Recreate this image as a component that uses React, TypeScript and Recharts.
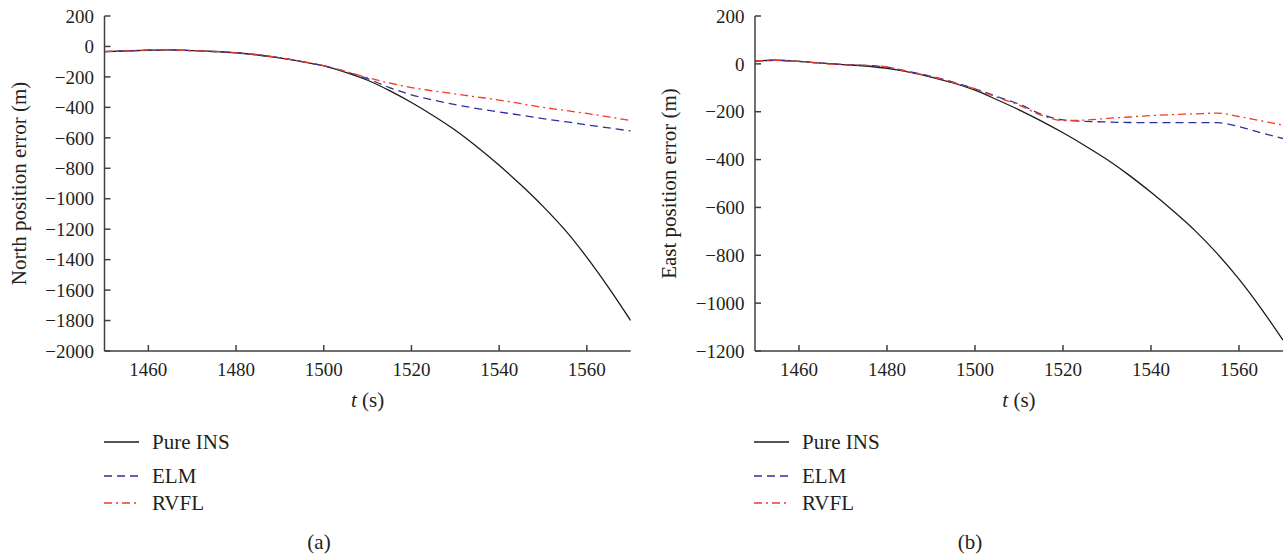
import React from 'react';
import { LineChart, Line, XAxis, YAxis } from 'recharts';

// time stamps (s)
const tValues = [
  1450, 1455, 1460, 1465, 1470, 1475, 1480, 1485, 1490, 1495, 1500, 1505, 1510,
  1515, 1520, 1525, 1530, 1535, 1540, 1545, 1550, 1555, 1560, 1565, 1570,
];

// (a) north position error (m)
const northPureIns = [
  -34, -30, -25, -22, -27, -33, -42, -56, -75, -100, -128, -170, -222,
  -290, -368, -455, -550, -660, -780, -910, -1050, -1205, -1385, -1585, -1800,
];
const northElm = [
  -34, -29, -25, -23, -27, -34, -41, -56, -74, -99, -127, -166, -212,
  -270, -318, -352, -382, -408, -430, -452, -474, -494, -515, -535, -555,
];
const northRvfl = [
  -33, -30, -24, -22, -28, -32, -42, -54, -75, -98, -126, -164, -205,
  -240, -270, -292, -312, -332, -352, -376, -400, -420, -440, -462, -487,
];

// (b) east position error (m)
const eastPureIns = [
  12, 15, 10, 3, -3, -9, -19, -35, -55, -80, -110, -150, -192,
  -238, -288, -342, -400, -465, -537, -614, -697, -792, -900, -1022, -1155,
];
const eastElm = [
  12, 15, 10, 3, -3, -6, -14, -32, -52, -76, -104, -137, -168,
  -210, -234, -240, -243, -245, -246, -246, -246, -246, -262, -288, -312,
];
const eastRvfl = [
  12, 15, 10, 2, -4, -6, -13, -33, -53, -78, -105, -140, -172,
  -214, -237, -235, -228, -222, -216, -212, -209, -206, -220, -238, -256,
];

const xTicks = [1460, 1480, 1500, 1520, 1540, 1560];
const northTicks = [200, 0, -200, -400, -600, -800, -1000, -1200, -1400, -1600, -1800, -2000];
const eastTicks = [200, 0, -200, -400, -600, -800, -1000, -1200];

const SERIF = '"Liberation Serif", "DejaVu Serif", serif';
const INK = '#231f20';
const AXIS = '#404040';

const series = [
  { key: 'ins', name: 'Pure INS', color: '#1c1c1c', dash: undefined as string | undefined },
  { key: 'elm', name: 'ELM', color: '#2f2f9c', dash: '8 5' },
  { key: 'rvfl', name: 'RVFL', color: '#f03c24', dash: '8 4 2 4' },
];

const legendRows = [442, 476, 503];

const fmt = (v: number) => (v < 0 ? `\u2212${Math.abs(v)}` : `${v}`);

const buildRows = (ins: number[], elm: number[], rvfl: number[]) =>
  tValues.map((t, i) => ({ t, ins: ins[i], elm: elm[i], rvfl: rvfl[i] }));

const TimeTitle = (props: any) => {
  const { viewBox } = props;
  const cx = viewBox.x + viewBox.width / 2;
  return (
    <text x={cx} y={viewBox.y + 56} textAnchor="middle" fontFamily={SERIF} fontSize={21} fill={INK}>
      <tspan fontStyle="italic">t</tspan> (s)
    </text>
  );
};

interface PanelProps {
  left: number;
  width: number;
  axisWidth: number;
  rightGap: number;
  rows: any[];
  yLabel: string;
  yDomain: [number, number];
  yTicks: number[];
  tag: string;
  tagX: number;
}

const Panel = ({ left, width, axisWidth, rightGap, rows, yLabel, yDomain, yTicks, tag, tagX }: PanelProps) => {
  const tickStyle = { fontFamily: SERIF, fontSize: 19, fill: INK };
  const plotLeft = left + axisWidth;
  return (
    <>
      <div style={{ position: 'absolute', left, top: 0 }}>
        <LineChart
          width={width}
          height={555}
          data={rows}
          margin={{ top: 16, right: rightGap, left: 0, bottom: 174 }}
        >
          <XAxis
            dataKey="t"
            type="number"
            domain={[1450, 1570]}
            ticks={xTicks}
            allowDataOverflow
            height={30}
            stroke={AXIS}
            strokeWidth={1.5}
            tickSize={-6}
            tickMargin={18}
            tick={tickStyle}
            label={<TimeTitle />}
          />
          <XAxis
            xAxisId="top"
            orientation="top"
            dataKey="t"
            type="number"
            domain={[1450, 1570]}
            ticks={xTicks}
            allowDataOverflow
            height={0}
            stroke={AXIS}
            strokeWidth={1.5}
            tickSize={-6}
            tick={false}
          />
          <YAxis
            type="number"
            domain={yDomain}
            ticks={yTicks}
            allowDataOverflow
            width={axisWidth}
            stroke={AXIS}
            strokeWidth={1.5}
            tickSize={-6}
            tickMargin={16.5}
            tick={tickStyle}
            tickFormatter={fmt}
            label={{
              value: yLabel,
              angle: -90,
              position: 'insideLeft',
              offset: 19,
              style: { textAnchor: 'middle', fontFamily: SERIF, fontSize: 21, fill: INK },
            }}
          />
          <YAxis
            yAxisId="right"
            orientation="right"
            type="number"
            domain={yDomain}
            ticks={yTicks}
            allowDataOverflow
            width={0}
            stroke={AXIS}
            strokeWidth={1.5}
            tickSize={-6}
            tick={false}
          />
          {series.map((s) => (
            <Line
              key={s.key}
              type="monotone"
              dataKey={s.key}
              name={s.name}
              stroke={s.color}
              strokeWidth={1.3}
              strokeDasharray={s.dash}
              dot={false}
              activeDot={false}
              isAnimationActive={false}
            />
          ))}
        </LineChart>
      </div>
      <svg
        width={260}
        height={120}
        style={{ position: 'absolute', left: plotLeft - 1, top: 420 }}
      >
        {series.map((s, i) => (
          <g key={s.key}>
            <line
              x1={0}
              x2={35}
              y1={legendRows[i] - 420}
              y2={legendRows[i] - 420}
              stroke={s.color}
              strokeWidth={1.5}
              strokeDasharray={s.dash}
            />
            <text
              x={48}
              y={legendRows[i] - 420 + 7}
              fontFamily={SERIF}
              fontSize={21}
              fill={INK}
            >
              {s.name}
            </text>
          </g>
        ))}
      </svg>
      <div
        style={{
          position: 'absolute',
          left: tagX - 40,
          width: 80,
          top: 529,
          textAlign: 'center',
          fontFamily: SERIF,
          fontSize: 21,
          color: INK,
          lineHeight: '26px',
        }}
      >
        {tag}
      </div>
    </>
  );
};

export default function App() {
  const north = buildRows(northPureIns, northElm, northRvfl);
  const east = buildRows(eastPureIns, eastElm, eastRvfl);
  return (
    <div style={{ position: 'absolute', left: 0, top: 0, width: 1287, height: 555, background: '#fff', overflow: 'hidden' }}>
      <Panel
        left={0}
        width={650}
        axisWidth={104.5}
        rightGap={19.3}
        rows={north}
        yLabel="North position error (m)"
        yDomain={[-2000, 200]}
        yTicks={northTicks}
        tag="(a)"
        tagX={319}
      />
      <Panel
        left={650}
        width={637}
        axisWidth={105}
        rightGap={4}
        rows={east}
        yLabel="East position error (m)"
        yDomain={[-1200, 200]}
        yTicks={eastTicks}
        tag="(b)"
        tagX={970}
      />
    </div>
  );
}
